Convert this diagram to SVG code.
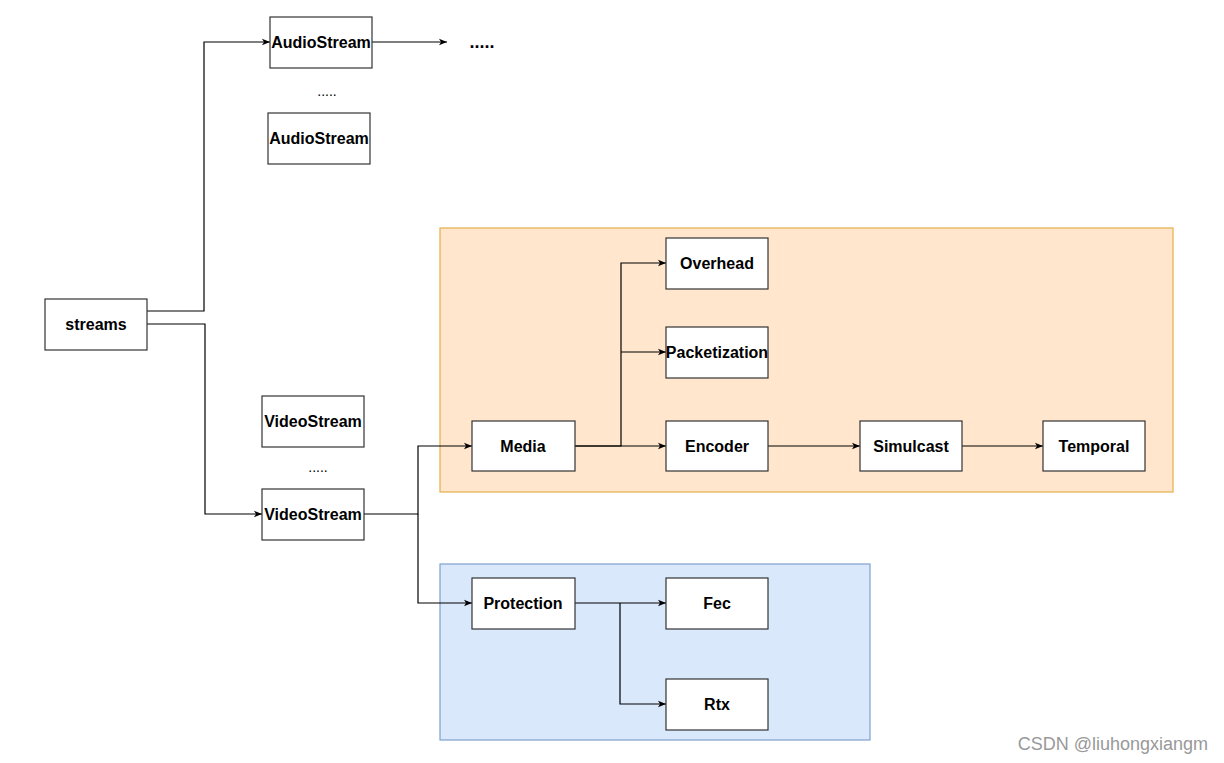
<svg xmlns="http://www.w3.org/2000/svg" width="1224" height="763" viewBox="0 0 1224 763">
<style>
.n{fill:#fff;stroke:#333;stroke-width:1.2}
.t{font-family:"Liberation Sans",Arial,sans-serif;font-weight:bold;font-size:16px;fill:#000;text-anchor:middle;dominant-baseline:central}
.c{fill:none;stroke:#000;stroke-width:1.2}
.d{font-family:"Liberation Sans",Arial,sans-serif;font-size:14px;text-anchor:middle;fill:#000}
</style>
<defs>
<marker id="a" viewBox="0 0 10 10" refX="10" refY="5" markerWidth="8" markerHeight="8" markerUnits="userSpaceOnUse" orient="auto">
<path d="M0,1 L10,5 L0,9 L2.5,5 Z" fill="#000"/>
</marker>
</defs>
<rect width="1224" height="763" fill="#fff"/>
<g id="containers">
<rect x="440" y="228" width="733" height="264" fill="#ffe6cc" stroke="#e5b04a" stroke-width="1.2"/>
<rect x="440" y="564" width="430" height="176" fill="#dae8fc" stroke="#7fa0cf" stroke-width="1.2"/>
</g>
<g id="connectors">
<path class="c" d="M147,311 H204 V42 H270" marker-end="url(#a)"/>
<path class="c" d="M372,42 H447" marker-end="url(#a)"/>
<path class="c" d="M147,324 H205 V514 H262" marker-end="url(#a)"/>
<path class="c" d="M364,514 H418 V446 H472" marker-end="url(#a)"/>
<path class="c" d="M418,514 V603 H472" marker-end="url(#a)"/>
<path class="c" d="M575,446 H621 V263 H666" marker-end="url(#a)"/>
<path class="c" d="M621,352 H666" marker-end="url(#a)"/>
<path class="c" d="M575,446 H666" marker-end="url(#a)"/>
<path class="c" d="M768,446 H860" marker-end="url(#a)"/>
<path class="c" d="M962,446 H1043" marker-end="url(#a)"/>
<path class="c" d="M575,603 H666" marker-end="url(#a)"/>
<path class="c" d="M620,603 V704 H666" marker-end="url(#a)"/>
</g>
<g id="streams"><rect class="n" x="45" y="299" width="102" height="51"/><text class="t" x="96" y="324.5">streams</text></g>
<g id="audio1"><rect class="n" x="270" y="17" width="102" height="51"/><text class="t" x="321" y="42">AudioStream</text></g>
<g id="audio2"><rect class="n" x="268" y="113" width="102" height="51"/><text class="t" x="319" y="138">AudioStream</text></g>
<g id="video1"><rect class="n" x="262" y="396" width="102" height="51"/><text class="t" x="313" y="421">VideoStream</text></g>
<g id="video2"><rect class="n" x="262" y="489" width="102" height="51"/><text class="t" x="313" y="514">VideoStream</text></g>
<g id="media"><rect class="n" x="472" y="421" width="103" height="50"/><text class="t" x="523" y="446">Media</text></g>
<g id="overhead"><rect class="n" x="666" y="238" width="102" height="51"/><text class="t" x="717" y="263">Overhead</text></g>
<g id="packetization"><rect class="n" x="666" y="327" width="102" height="51"/><text class="t" x="717" y="352">Packetization</text></g>
<g id="encoder"><rect class="n" x="666" y="421" width="102" height="50"/><text class="t" x="717" y="446">Encoder</text></g>
<g id="simulcast"><rect class="n" x="860" y="421" width="102" height="50"/><text class="t" x="911" y="446">Simulcast</text></g>
<g id="temporal"><rect class="n" x="1043" y="421" width="102" height="50"/><text class="t" x="1094" y="446">Temporal</text></g>
<g id="protection"><rect class="n" x="472" y="578" width="103" height="51"/><text class="t" x="523" y="603">Protection</text></g>
<g id="fec"><rect class="n" x="666" y="578" width="102" height="51"/><text class="t" x="717" y="603">Fec</text></g>
<g id="rtx"><rect class="n" x="666" y="679" width="102" height="51"/><text class="t" x="717" y="704">Rtx</text></g>
<g id="labels">
<text class="d" x="327" y="96">.....</text>
<text class="d" x="318" y="472">.....</text>
<text x="482" y="48" font-family="Liberation Sans,Arial,sans-serif" font-size="18" font-weight="bold" text-anchor="middle" fill="#000">.....</text>
<text x="1208" y="750" font-family="Liberation Sans,Arial,sans-serif" font-size="18" text-anchor="end" fill="#999">CSDN @liuhongxiangm</text>
</g>
</svg>
